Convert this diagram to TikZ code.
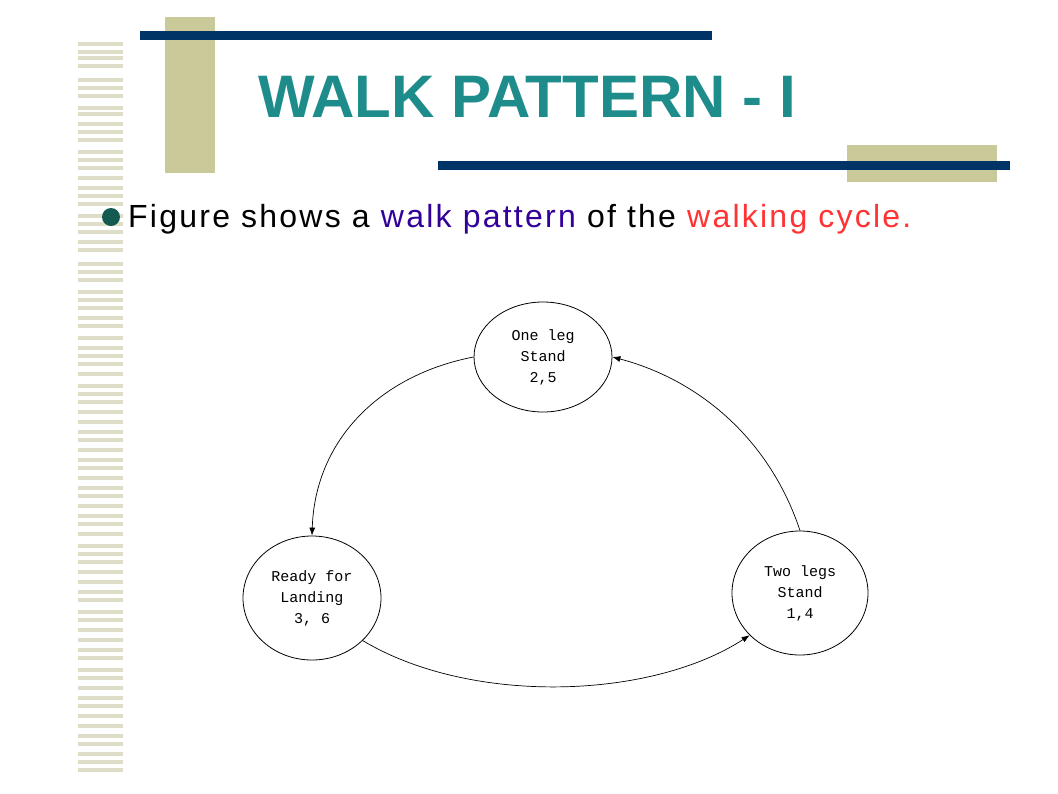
\documentclass[tikz,border=0pt]{standalone}
\usepackage{fontspec}
\setmainfont{Liberation Sans}
\newfontfamily\monof{Liberation Mono}
\newfontfamily\spaced[LetterSpace=7]{Liberation Sans}
\usetikzlibrary{arrows.meta,shapes.geometric}
\definecolor{tan}{RGB}{201,201,154}
\definecolor{stripe}{RGB}{222,222,200}
\definecolor{navy}{RGB}{0,51,102}
\definecolor{teal1}{RGB}{31,140,140}
\definecolor{bul}{RGB}{20,90,80}
\definecolor{blu}{RGB}{51,0,153}
\definecolor{rd}{RGB}{255,51,51}
\begin{document}
\begin{tikzpicture}[x=1pt,y=-1pt,
  st/.style={draw,ellipse,line width=0.8pt,inner sep=0pt,align=center,font=\monof\fontsize{15}{21}\selectfont},
  ar/.style={-{Latex[length=8pt,width=6pt]},line width=0.7pt}]
\useasboundingbox (0,0) rectangle (1058,793);
\fill[white] (0,0) rectangle (1058,793);
\foreach \y in {42,50,56,64,78,86,94,106,112,122,130,138,150,158,166,176,186,194,202,214,222,230,240,248,262,270,278,290,298,306,316,324,336,346,354,362,372,384,392,400,410,420,430,438,448,458,466,476,486,494,504,514,522,532,544,552,560,570,580,590,598,610,618,628,638,648,656,668,676,686,696,704,714,724,734,742,752,760,768}
  \fill[stripe] (78,\y) rectangle (123,\y+3.5);
\fill[tan] (165,17) rectangle (215,173);
\fill[navy] (140,31) rectangle (712,40);
\fill[tan] (847,145) rectangle (997,182);
\fill[navy] (438,161) rectangle (1010,170);
\node[anchor=base west,text=teal1,font=\bfseries\fontsize{60}{60}\selectfont,inner sep=0] (title) at (258,117) {WALK PATTERN - I};
\fill[bul] (111,217) circle (9);
\node[anchor=base west,font=\spaced\fontsize{32}{32}\selectfont,inner sep=0] (txt) at (128,227) {Figure shows a \textcolor{blu}{walk pattern} of the \textcolor{rd}{walking cycle.}};
\node[st,minimum width=138pt,minimum height=110pt] (one) at (543,357) {One leg\\Stand\\2,5};
\node[st,minimum width=138pt,minimum height=124pt] (ready) at (312,598) {Ready for\\Landing\\3, 6};
\node[st,minimum width=136pt,minimum height=124pt] (two) at (800,593) {Two legs\\Stand\\1,4};
\draw[ar] (one.west) .. controls (380,375) and (315,440) .. (ready.north);
\draw[ar] (two.north) .. controls (770,440) and (700,380) .. (one.east);
\draw[ar] (ready.-40) .. controls (470,705) and (650,700) .. (two.220);
\end{tikzpicture}
\end{document}
